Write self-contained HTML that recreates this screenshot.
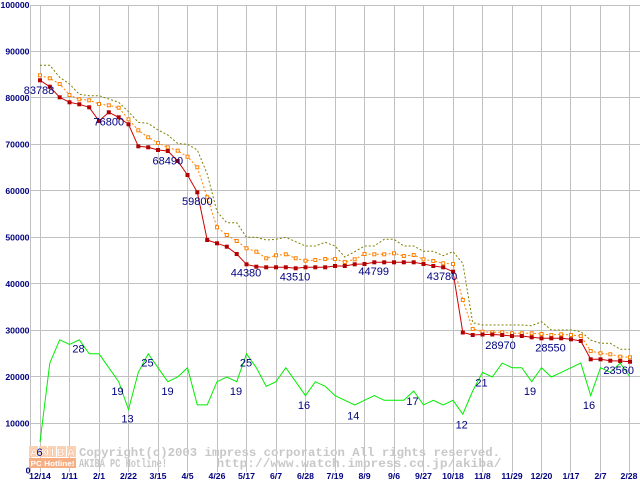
<!DOCTYPE html>
<html><head><meta charset="utf-8"><style>
html,body{margin:0;padding:0;background:#fff;}
svg{display:block;}
</style></head><body>
<svg width="640" height="480" viewBox="0 0 640 480" xmlns="http://www.w3.org/2000/svg">
<defs>
<marker id="mr" markerWidth="5" markerHeight="5" refX="2.5" refY="2.5" markerUnits="userSpaceOnUse"><rect x="0.5" y="0.5" width="4" height="4" fill="#b00000"/></marker>
<marker id="mo" markerWidth="5" markerHeight="5" refX="2.5" refY="2.5" markerUnits="userSpaceOnUse"><rect x="1" y="1" width="3" height="3" fill="#fff" stroke="#ff8000" stroke-width="1"/></marker>
</defs>
<rect width="640" height="480" fill="#fff"/>
<g fill="#c0c0c0">
<rect x="30" y="5" width="610" height="1"/>
<rect x="30" y="51" width="610" height="1"/>
<rect x="30" y="97" width="610" height="1"/>
<rect x="30" y="144" width="610" height="1"/>
<rect x="30" y="190" width="610" height="1"/>
<rect x="30" y="237" width="610" height="1"/>
<rect x="30" y="283" width="610" height="1"/>
<rect x="30" y="330" width="610" height="1"/>
<rect x="30" y="376" width="610" height="1"/>
<rect x="30" y="423" width="610" height="1"/>
<rect x="30" y="5" width="1" height="467"/>
<rect x="40" y="5" width="1" height="467"/>
<rect x="69" y="5" width="1" height="467"/>
<rect x="99" y="5" width="1" height="467"/>
<rect x="128" y="5" width="1" height="467"/>
<rect x="158" y="5" width="1" height="467"/>
<rect x="187" y="5" width="1" height="467"/>
<rect x="217" y="5" width="1" height="467"/>
<rect x="246" y="5" width="1" height="467"/>
<rect x="276" y="5" width="1" height="467"/>
<rect x="305" y="5" width="1" height="467"/>
<rect x="335" y="5" width="1" height="467"/>
<rect x="364" y="5" width="1" height="467"/>
<rect x="394" y="5" width="1" height="467"/>
<rect x="423" y="5" width="1" height="467"/>
<rect x="453" y="5" width="1" height="467"/>
<rect x="482" y="5" width="1" height="467"/>
<rect x="512" y="5" width="1" height="467"/>
<rect x="541" y="5" width="1" height="467"/>
<rect x="570" y="5" width="1" height="467"/>
<rect x="600" y="5" width="1" height="467"/>
<rect x="629" y="5" width="1" height="467"/>
</g>
<g font-family="Liberation Sans, sans-serif" font-weight="bold" font-size="8.7" fill="#000080" text-anchor="end">
<text x="29.5" y="8">100000</text>
<text x="29.5" y="54.5">90000</text>
<text x="29.5" y="101">80000</text>
<text x="29.5" y="147.5">70000</text>
<text x="29.5" y="194">60000</text>
<text x="29.5" y="240.5">50000</text>
<text x="29.5" y="287">40000</text>
<text x="29.5" y="333.5">30000</text>
<text x="29.5" y="380">20000</text>
<text x="29.5" y="426.5">10000</text>
<text x="30.5" y="473.5">0</text>
</g>
<g font-family="Liberation Sans, sans-serif" font-weight="bold" font-size="8.7" fill="#000080" text-anchor="middle">
<text x="40" y="479">12/14</text>
<text x="69.5" y="479">1/11</text>
<text x="99" y="479">2/1</text>
<text x="128.5" y="479">2/22</text>
<text x="158" y="479">3/15</text>
<text x="187.5" y="479">4/5</text>
<text x="217" y="479">4/26</text>
<text x="246.5" y="479">5/17</text>
<text x="276" y="479">6/7</text>
<text x="305.5" y="479">6/28</text>
<text x="335" y="479">7/19</text>
<text x="364.5" y="479">8/9</text>
<text x="394" y="479">9/6</text>
<text x="423.5" y="479">9/27</text>
<text x="453" y="479">10/18</text>
<text x="482.5" y="479">11/8</text>
<text x="512" y="479">11/29</text>
<text x="541.5" y="479">12/20</text>
<text x="571" y="479">1/17</text>
<text x="600.5" y="479">2/7</text>
<text x="629" y="479">2/28</text>
</g>
<g>
<rect x="29" y="446" width="47" height="11" fill="#fbd2b4"/>
<g fill="#fff"><rect x="38" y="446" width="1" height="11"/><rect x="47" y="446" width="1" height="11"/><rect x="56" y="446" width="1" height="11"/><rect x="66" y="446" width="1" height="11"/></g>
<text x="30" y="456" font-family="Liberation Sans, sans-serif" font-weight="bold" font-size="11" fill="#fff" stroke="#f4b893" stroke-width="0.4" textLength="45" lengthAdjust="spacing">AKIBA</text>
<rect x="29" y="458" width="47" height="10" fill="#f7ae82"/>
<text x="30.5" y="466" font-family="Liberation Sans, sans-serif" font-weight="bold" font-size="7.5" fill="#fff" textLength="44" lengthAdjust="spacingAndGlyphs">PC Hotline!</text>
<g font-family="Liberation Mono, monospace" font-weight="bold" font-size="11.5" fill="#c8c8c8">
<text x="79" y="456" textLength="421" lengthAdjust="spacingAndGlyphs">Copyright(c)2003 impress corporation All rights reserved.</text>
<text x="79" y="467" textLength="88" lengthAdjust="spacingAndGlyphs">AKIBA PC Hotline!</text>
<text x="216.5" y="467" textLength="285" lengthAdjust="spacingAndGlyphs">http://www.watch.impress.co.jp/akiba/</text>
</g>
</g>
<polyline fill="none" stroke="#808000" stroke-width="1" stroke-dasharray="2,2" points="40,65.3 49.8,65.3 59.7,77.3 69.5,84 79.3,94.3 89.2,95.7 99,95.7 108.8,99 118.7,102.3 128.5,111.7 138.3,122.3 148.2,123.3 158,130 167.8,135 177.7,143.5 187.5,144.3 197.3,150 207.2,174 217,211.7 226.8,222.7 236.7,222.7 246.5,237.3 256.3,237.3 266.2,240 276,239.3 285.8,237.3 295.7,241.7 305.5,246 315.3,246 325.2,242.3 335,246 344.8,257 354.7,251.7 364.5,246 374.3,246 384.2,239.3 394,239.3 403.8,246 413.7,246 423.5,251.3 433.3,251.3 443.2,255.7 453,251.7 462.8,263.3 472.7,322.7 482.5,325 492.3,325 502.2,325 512,325 521.8,325 531.7,325.7 541.5,321.7 551.3,330 561.2,330 571,330 580.8,331.7 590.7,340 600.5,343.3 610.3,343.3 620.2,349.3 630,349.3"/>
<polyline fill="none" stroke="#ff8000" stroke-width="1" stroke-dasharray="2,2" marker-start="url(#mo)" marker-mid="url(#mo)" marker-end="url(#mo)" points="40,75.3 49.8,78.3 59.7,84 69.5,95 79.3,99.3 89.2,100.3 99,104 108.8,105.3 118.7,107.7 128.5,119.3 138.3,130.3 148.2,137.3 158,143 167.8,147.3 177.7,150.7 187.5,156.7 197.3,167.3 207.2,197.3 217,227.3 226.8,235 236.7,241 246.5,248.3 256.3,251.7 266.2,258.3 276,255.3 285.8,254.3 295.7,258.3 305.5,260.7 315.3,260 325.2,259 335,259 344.8,262 354.7,259.3 364.5,254 374.3,254.3 384.2,254.3 394,253.3 403.8,256 413.7,255 423.5,259.3 433.3,261 443.2,263.3 453,264 462.8,300 472.7,329 482.5,331.7 492.3,332.3 502.2,332.3 512,333.3 521.8,333.3 531.7,333.3 541.5,334 551.3,335 561.2,334.3 571,335 580.8,336 590.7,351 600.5,353.3 610.3,354.3 620.2,356.7 630,357.3"/>
<polyline fill="none" stroke="#cc0000" stroke-width="1" marker-start="url(#mr)" marker-mid="url(#mr)" marker-end="url(#mr)" points="40,80.3 49.8,86.7 59.7,97.3 69.5,102.3 79.3,104.3 89.2,107.3 99,121 108.8,112.3 118.7,117.3 128.5,124.3 138.3,146.3 148.2,147.3 158,150 167.8,151 177.7,161 187.5,175 197.3,192.3 207.2,240 217,243.3 226.8,246.7 236.7,254 246.5,264.3 256.3,266.7 266.2,267.3 276,267.3 285.8,267.3 295.7,268.3 305.5,267.3 315.3,267.3 325.2,267.3 335,266 344.8,266 354.7,264.3 364.5,264 374.3,262.3 384.2,262.3 394,262.3 403.8,262.3 413.7,262.3 423.5,264 433.3,266 443.2,267.3 453,271.7 462.8,332.5 472.7,335 482.5,334.5 492.3,334.5 502.2,335 512,336 521.8,336 531.7,337.3 541.5,338.3 551.3,338.3 561.2,338.3 571,339.3 580.8,341 590.7,359.3 600.5,359.3 610.3,360.7 620.2,361 630,361.7"/>
<polyline fill="none" stroke="#00ee00" stroke-width="1" points="40,442.1 49.8,363.1 59.7,339.8 69.5,344.5 79.3,339.8 89.2,353.8 99,353.8 108.8,367.7 118.7,381.7 128.5,409.6 138.3,372.4 148.2,353.8 158,367.7 167.8,381.7 177.7,377 187.5,367.7 197.3,404.9 207.2,404.9 217,381.7 226.8,377 236.7,381.7 246.5,353.8 256.3,367.7 266.2,386.3 276,381.7 285.8,367.7 295.7,381.7 305.5,395.6 315.3,381.7 325.2,386.3 335,395.6 344.8,400.3 354.7,404.9 364.5,400.3 374.3,395.6 384.2,400.3 394,400.3 403.8,400.3 413.7,391 423.5,404.9 433.3,400.3 443.2,404.9 453,400.3 462.8,414.2 472.7,391 482.5,372.4 492.3,377 502.2,363.1 512,367.7 521.8,367.7 531.7,381.7 541.5,367.7 551.3,377 561.2,372.4 571,367.7 580.8,363.1 590.7,395.6 600.5,367.7 610.3,372.4 620.2,363.1 630,377"/>
<g font-family="Liberation Sans, sans-serif" font-size="11" fill="#000080" text-anchor="middle">
<text x="39" y="94">83788</text>
<text x="108.8" y="125.7">76800</text>
<text x="167.8" y="164.3">68490</text>
<text x="197.3" y="205">59800</text>
<text x="246" y="276.7">44380</text>
<text x="295" y="280.7">43510</text>
<text x="373.7" y="275">44799</text>
<text x="442" y="280">43780</text>
<text x="500.5" y="349">28970</text>
<text x="550.5" y="351.7">28550</text>
<text x="618.7" y="374">23560</text>
<text x="39.5" y="456">6</text>
<text x="78.5" y="352.7">28</text>
<text x="117.5" y="395">19</text>
<text x="127.5" y="422.7">13</text>
<text x="147.5" y="366.7">25</text>
<text x="167.5" y="395">19</text>
<text x="236" y="395">19</text>
<text x="246" y="366.7">25</text>
<text x="304" y="409">16</text>
<text x="353.3" y="419.3">14</text>
<text x="412.5" y="405">17</text>
<text x="461.7" y="428.3">12</text>
<text x="481.5" y="386.7">21</text>
<text x="530" y="395">19</text>
<text x="589" y="409">16</text>
</g>
</svg>
</body></html>
